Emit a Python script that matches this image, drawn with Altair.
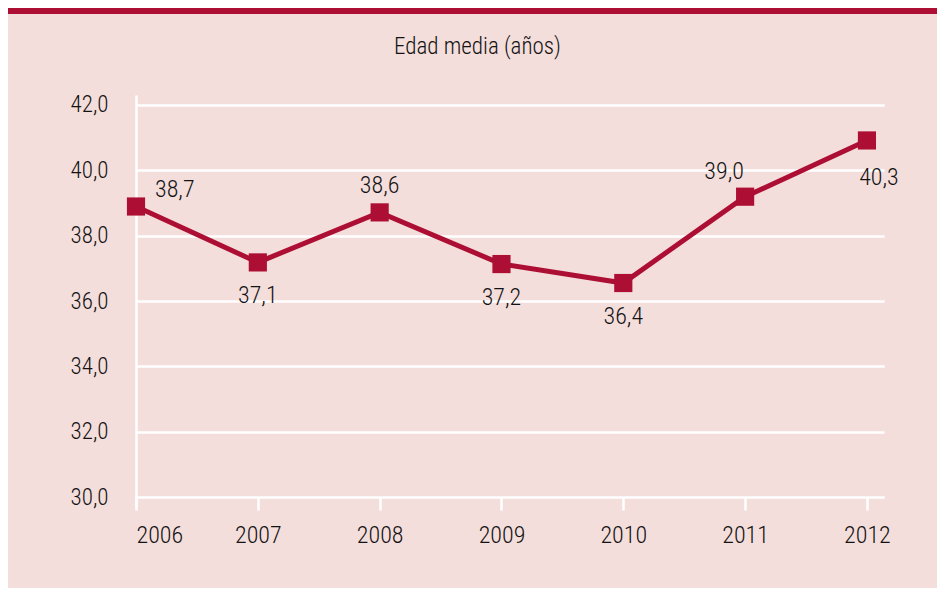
import altair as alt
import pandas as pd

years = [2006, 2007, 2008, 2009, 2010, 2011, 2012]
values = [38.89, 37.18, 38.71, 37.13, 36.55, 39.19, 40.91]
labels = ["38,7", "37,1", "38,6", "37,2", "36,4", "39,0", "40,3"]
label_pos = ["ne", "s", "n", "s", "s", "nw", "se"]
y_ticks = [30, 32, 34, 36, 38, 40, 42]
title_text = "Edad media (años)"

BG = "#f3dedb"
RED = "#ad0e33"
TXT = "#141213"
FONT = "'Liberation Sans Narrow', 'Roboto Condensed', 'DejaVu Sans Condensed', Roboto, sans-serif"
FW = 300

df = pd.DataFrame({"year": years, "value": values, "label": labels, "pos": label_pos})

x = alt.X("year:Q",
          scale=alt.Scale(domain=[2006, 2012.14], nice=False, zero=False),
          axis=alt.Axis(values=years, format="d", title=None, grid=False, domain=False,
                        tickColor="white", tickWidth=2.5, tickSize=13, offset=-10,
                        labelPadding=13, labelFontSize=24, labelFontWeight=FW,
                        labelColor=TXT, labelFont=FONT))
y = alt.Y("value:Q",
          scale=alt.Scale(domain=[29.7, 42.3], nice=False, zero=False),
          axis=alt.Axis(values=y_ticks, title=None, grid=True, gridColor="white", gridWidth=2.5,
                        domainColor="white", domainWidth=2.5, ticks=False, labelPadding=28,
                        labelFontSize=23, labelFontWeight=FW, labelColor=TXT, labelFont=FONT,
                        labelExpr="replace(format(datum.value, '.1f'), '.', ',')"))

base = alt.Chart(df)

line = base.mark_line(color=RED, strokeWidth=5).encode(x=x, y=y)
pts = base.mark_square(color=RED, size=330, opacity=1).encode(x=x, y=y)

offsets = {
    "ne": dict(align="left", dx=19, dy=-17),
    "n": dict(align="center", dx=0, dy=-26),
    "s": dict(align="center", dx=0, dy=34),
    "nw": dict(align="center", dx=-21, dy=-25),
    "se": dict(align="center", dx=12, dy=38),
}
texts = []
for p, o in offsets.items():
    texts.append(
        base.transform_filter(alt.datum.pos == p)
        .mark_text(fontSize=24, font=FONT, fontWeight=FW, color=TXT, baseline="middle", **o)
        .encode(x=x, y=y, text="label:N")
    )

deco = pd.DataFrame({"t": [title_text]})
topbar = alt.Chart(deco).mark_rect(color=RED).encode(
    x=alt.value(-128), x2=alt.value(801), y=alt.value(-87), y2=alt.value(-81)
)
title = alt.Chart(deco).mark_text(font=FONT, fontSize=23, fontWeight=FW, color=TXT,
                                  align="center", baseline="alphabetic").encode(
    x=alt.value(341.5), y=alt.value(-41), text="t:N"
)

chart = alt.layer(topbar, title, line, pts, *texts).properties(
    width=748, height=412,
    padding={"left": 128, "top": 87, "right": 53, "bottom": 81},
    autosize=alt.AutoSizeParams(type="none"),
    background=BG,
).configure_view(stroke=None)

chart.save("out.html", embed_options={"renderer": "svg", "actions": False})
